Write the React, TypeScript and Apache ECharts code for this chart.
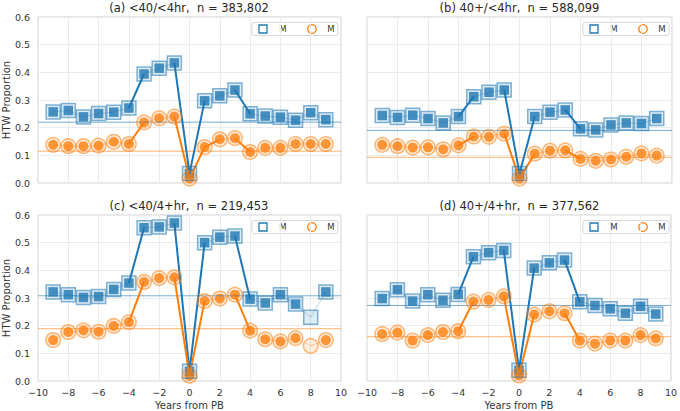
import React, { useEffect, useRef } from "react";
import * as echarts from "echarts";

const years = [-9, -8, -7, -6, -5, -4, -3, -2, -1, 0, 1, 2, 3, 4, 5, 6, 7, 8, 9];

const titles = [
  "(a) <40/<4hr,  n = 383,802",
  "(b) 40+/<4hr,  n = 588,099",
  "(c) <40/4+hr,  n = 219,453",
  "(d) 40+/4+hr,  n = 377,562",
];

const aBlue = [0.257, 0.262, 0.239, 0.251, 0.256, 0.271, 0.394, 0.415, 0.434, 0.034, 0.297, 0.315, 0.336, 0.25, 0.242, 0.238, 0.227, 0.254, 0.229];
const aOrange = [0.138, 0.133, 0.133, 0.135, 0.149, 0.141, 0.219, 0.234, 0.24, 0.016, 0.13, 0.158, 0.162, 0.112, 0.127, 0.127, 0.141, 0.141, 0.141];
const bBlue = [0.244, 0.237, 0.245, 0.233, 0.217, 0.24, 0.312, 0.328, 0.336, 0.034, 0.24, 0.256, 0.264, 0.196, 0.192, 0.21, 0.217, 0.215, 0.233];
const bOrange = [0.138, 0.133, 0.128, 0.129, 0.122, 0.136, 0.168, 0.167, 0.178, 0.016, 0.106, 0.117, 0.118, 0.087, 0.08, 0.085, 0.095, 0.107, 0.099];
const cBlue = [0.322, 0.312, 0.302, 0.305, 0.331, 0.354, 0.554, 0.557, 0.571, 0.035, 0.5, 0.52, 0.524, 0.296, 0.282, 0.312, 0.278, 0.23, 0.322];
const cOrange = [0.148, 0.177, 0.183, 0.178, 0.199, 0.213, 0.358, 0.372, 0.375, 0.019, 0.289, 0.298, 0.312, 0.182, 0.151, 0.143, 0.155, 0.127, 0.148];
const dBlue = [0.298, 0.33, 0.289, 0.312, 0.292, 0.313, 0.449, 0.464, 0.472, 0.039, 0.408, 0.427, 0.437, 0.286, 0.273, 0.261, 0.245, 0.27, 0.242];
const dOrange = [0.17, 0.175, 0.146, 0.166, 0.177, 0.18, 0.287, 0.293, 0.306, 0.02, 0.24, 0.252, 0.245, 0.146, 0.135, 0.146, 0.146, 0.166, 0.154];

// overall means (horizontal reference lines)
const blueMeans = [0.22, 0.19, 0.308, 0.273];
const orangeMeans = [0.115, 0.093, 0.189, 0.16];

// years whose point is drawn hollow only (not filled)
const hollowOnly = [[], [], [8], []];

// start year of each emphasised (bold) segment
const boldBlue = [[-4, -1, 0, 3], [-4, -1, 0, 3], [-4, -1, 0, 3], [-4, -1, 0, 3]];
const boldOrange = [[-4, -1, 0, 1, 3], [-4, -1, 0, 3], [-4, -1, 0, 3], [-4, -1, 0, 3]];

const blueSets = [aBlue, bBlue, cBlue, dBlue];
const orangeSets = [aOrange, bOrange, cOrange, dOrange];

const legendLabels = ["M", "M"];

const BLUE = "#1f77b4";
const ORANGE = "#ff7f0e";

const grids = [
  { left: 37, top: 17, width: 304, height: 166 },
  { left: 367, top: 17, width: 305, height: 166 },
  { left: 37, top: 215, width: 304, height: 166 },
  { left: 367, top: 215, width: 305, height: 166 },
];

const FONT = "DejaVu Sans";

function fmtX(v: number) {
  return v < 0 ? "\u2212" + Math.abs(v) : String(v);
}

export default function App() {
  const ref = useRef<HTMLDivElement>(null);
  useEffect(() => {
    if (!ref.current) return;
    const chart = echarts.init(ref.current, null, { renderer: "svg" });

    const series: any[] = [];
    const graphics: any[] = [];

    grids.forEach((g, i) => {
      const groups = [
        { vals: blueSets[i], mean: blueMeans[i], bold: boldBlue[i], color: BLUE, rgb: "31,119,180", sym: "rect", size: 9.5, outer: 14 },
        { vals: orangeSets[i], mean: orangeMeans[i], bold: boldOrange[i], color: ORANGE, rgb: "255,127,14", sym: "circle", size: 10, outer: 14.5 },
      ];
      groups.forEach((s) => {
        series.push({
          type: "line",
          xAxisIndex: i,
          yAxisIndex: i,
          data: [[-10, s.mean], [10, s.mean]],
          symbol: "none",
          silent: true,
          lineStyle: { width: 1, color: `rgba(${s.rgb},0.6)` },
        });
      });
      groups.forEach((s) => {
        series.push({
          type: "line",
          xAxisIndex: i,
          yAxisIndex: i,
          data: years.map((x, k) => [x, s.vals[k]]),
          symbol: s.sym,
          symbolSize: s.outer,
          silent: true,
          itemStyle: { color: `rgba(${s.rgb},0.14)`, borderColor: `rgba(${s.rgb},0.55)`, borderWidth: 1.5 },
          lineStyle: { width: 1, color: `rgba(${s.rgb},0.3)` },
        });
        s.bold.forEach((st: number) => {
          const k = years.indexOf(st);
          series.push({
            type: "line",
            xAxisIndex: i,
            yAxisIndex: i,
            data: [[years[k], s.vals[k]], [years[k + 1], s.vals[k + 1]]],
            symbol: "none",
            silent: true,
            lineStyle: { width: 2, color: s.color },
          });
        });
        series.push({
          type: "scatter",
          xAxisIndex: i,
          yAxisIndex: i,
          data: years
            .map((x, k) => [x, s.vals[k]])
            .filter((p) => hollowOnly[i].indexOf(p[0]) < 0),
          symbol: s.sym,
          symbolSize: s.size,
          silent: true,
          itemStyle: { color: s.color },
        });
      });

      // title
      graphics.push({
        type: "text",
        x: g.left + g.width / 2,
        y: g.top - 9.5,
        style: { text: titles[i], fontFamily: FONT, fontSize: 11.5, fill: "#262626", align: "center", verticalAlign: "middle" },
      });
      // legend
      const right = g.left + g.width - 3;
      const top = g.top + 5.5;
      graphics.push({
        type: "rect",
        shape: { x: right - 86, y: top, width: 86, height: 13, r: 2 },
        style: { fill: "rgba(255,255,255,0.85)", stroke: "#d8d8d8", lineWidth: 1 },
      });
      graphics.push({
        type: "rect",
        shape: { x: right - 79, y: top + 2.5, width: 8, height: 8 },
        style: { fill: "none", stroke: BLUE, lineWidth: 1.3 },
      });
      graphics.push({
        type: "circle",
        shape: { cx: right - 26, cy: top + 6.5, r: 4.3 },
        style: { fill: "none", stroke: ORANGE, lineWidth: 1.3 },
      });
      graphics.push({
        type: "text",
        x: right - 55,
        y: top + 6.8,
        style: { text: legendLabels[0], fontFamily: FONT, fontSize: 8.5, fill: "#333", align: "center", verticalAlign: "middle" },
      });
      graphics.push({
        type: "text",
        x: right - 7,
        y: top + 6.8,
        style: { text: legendLabels[1], fontFamily: FONT, fontSize: 8.5, fill: "#333", align: "center", verticalAlign: "middle" },
      });
    });

    chart.setOption({
      animation: false,
      backgroundColor: "#fff",
      textStyle: { fontFamily: FONT },
      grid: grids.map((g) => ({ ...g, show: true, borderColor: "#cfcfcf", borderWidth: 1, backgroundColor: "transparent" })),
      xAxis: grids.map((_, i) => ({
        type: "value",
        gridIndex: i,
        min: -10,
        max: 10,
        interval: 2,
        axisLine: { show: false },
        axisTick: { show: false },
        splitLine: { show: true, lineStyle: { color: "#ebebeb", width: 1 } },
        axisLabel: { show: i >= 2, formatter: fmtX, fontFamily: FONT, fontSize: 9.5, color: "#333", margin: 6 },
        name: i >= 2 ? "Years from PB" : "",
        nameLocation: "middle",
        nameGap: 19,
        nameTextStyle: { fontFamily: FONT, fontSize: 10, color: "#333" },
      })),
      yAxis: grids.map((_, i) => ({
        type: "value",
        gridIndex: i,
        min: 0,
        max: 0.6,
        interval: 0.1,
        axisLine: { show: false },
        axisTick: { show: false },
        splitLine: { show: true, lineStyle: { color: "#ebebeb", width: 1 } },
        axisLabel: { show: i % 2 === 0, formatter: (v: number) => v.toFixed(1), fontFamily: FONT, fontSize: 9.5, color: "#333", margin: 8 },
        name: i % 2 === 0 ? "HTW Proportion" : "",
        nameLocation: "middle",
        nameGap: 24,
        nameTextStyle: { fontFamily: FONT, fontSize: 10, color: "#333" },
      })),
      series,
      graphic: graphics,
    });
    return () => chart.dispose();
  }, []);
  return <div ref={ref} style={{ position: "fixed", left: 0, top: 0, width: 680, height: 411 }} />;
}
